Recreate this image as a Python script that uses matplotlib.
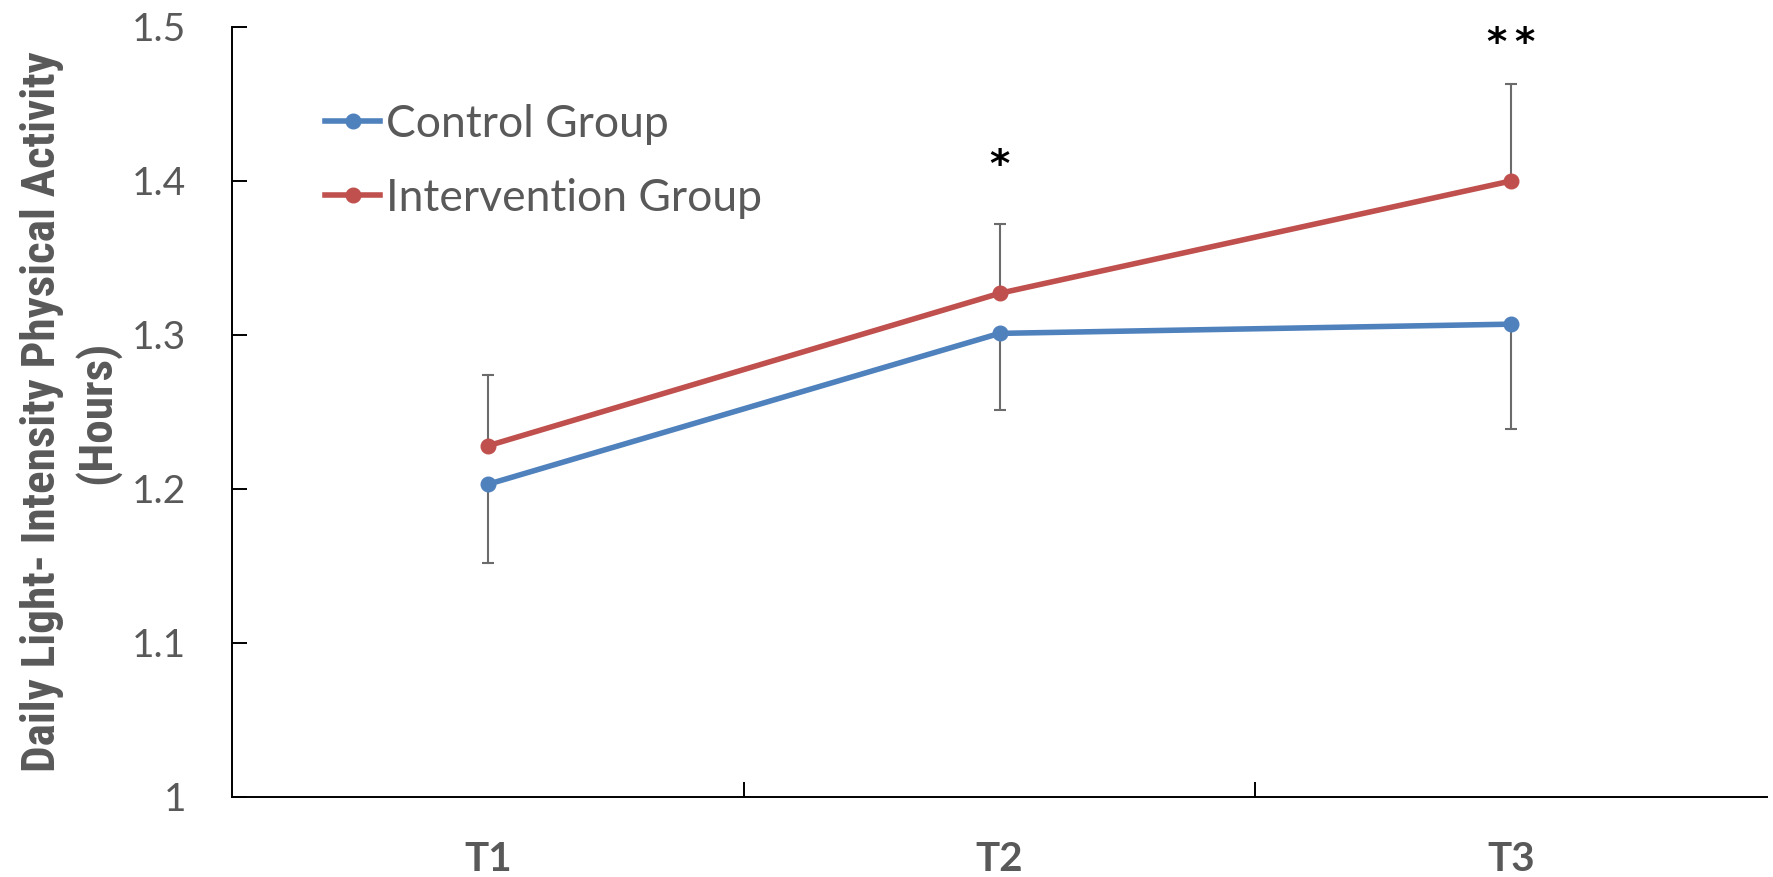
import numpy as np
import matplotlib
matplotlib.use("Agg")
import matplotlib.pyplot as plt

# data
timepoints = ["T1", "T2", "T3"]
control_mean = [1.203, 1.301, 1.307]
control_err = [0.051, 0.050, 0.068]      # drawn below the point only
intervention_mean = [1.228, 1.327, 1.400]
intervention_err = [0.046, 0.045, 0.063]  # drawn above the point only
star_labels = ["", "*", "*\u2009*"]
star_y = [None, 1.410, 1.489]
ytick_vals = [1.0, 1.1, 1.2, 1.3, 1.4, 1.5]
ytick_labels = ["1", "1.1", "1.2", "1.3", "1.4", "1.5"]

blue = "#4F81BD"
red = "#C0504D"
grey = "#595959"
bar_grey = "#6B6B6B"

fig = plt.figure(figsize=(17.73, 8.77), dpi=100)
ax = fig.add_axes([0.1309, 0.0913, 0.8657, 0.878])

x = np.arange(1, len(timepoints) + 1)

ax.errorbar(x, control_mean, yerr=[control_err, np.zeros(3)], fmt="none",
            ecolor=bar_grey, elinewidth=1.5, capsize=4.3, capthick=1.5, zorder=2)
ax.errorbar(x, intervention_mean, yerr=[np.zeros(3), intervention_err], fmt="none",
            ecolor=bar_grey, elinewidth=1.5, capsize=4.3, capthick=1.5, zorder=2)

ax.plot(x, control_mean, color=blue, lw=4.0, marker="o", ms=10.5,
        label="Control Group", zorder=3)
ax.plot(x, intervention_mean, color=red, lw=4.0, marker="o", ms=10.5,
        label="Intervention Group", zorder=3)

for xi, lab, yy in zip(x, star_labels, star_y):
    if lab:
        ax.text(xi, yy, lab, ha="center", va="center", fontsize=28,
                fontweight="bold", color="black", family="DejaVu Sans")

ax.set_xlim(0.5, 3.5)
ax.set_ylim(1.0, 1.5)
ax.set_yticks(ytick_vals)
ax.set_yticklabels(ytick_labels, family=["Lato", "DejaVu Sans"])
# category boundaries get the tick marks, the labels sit in between
ax.set_xticks([1.5, 2.5])
ax.set_xticklabels([])
ax.set_xticks(x, minor=True)
ax.set_xticklabels(timepoints, minor=True, fontsize=29, fontweight="bold",
                   color=grey, family=["Lato", "DejaVu Sans"])

ax.tick_params(axis="y", direction="in", length=11, width=1.4, pad=33,
               labelsize=28, labelcolor=grey)
ax.tick_params(axis="x", which="major", direction="in", length=11, width=1.4)
ax.tick_params(axis="x", which="minor", length=0, pad=32)

for s in ["top", "right"]:
    ax.spines[s].set_visible(False)
for s in ["left", "bottom"]:
    ax.spines[s].set_linewidth(1.4)
    ax.spines[s].set_color("black")

ax.set_ylabel("Daily Light- Intensity Physical Activity\n(Hours)",
              family=["DejaVu Sans Condensed", "Roboto Condensed",
                      "Liberation Sans Narrow", "Lato", "DejaVu Sans"],
              fontsize=34, fontweight="bold", color=grey, linespacing=1.25)
ax.yaxis.set_label_coords(-0.073, 0.5)

leg = ax.legend(loc="upper left", bbox_to_anchor=(0.043, 0.935), frameon=False,
                prop={"family": ["Lato", "DejaVu Sans"], "size": 32},
                handlelength=1.25, handletextpad=0.12, labelspacing=0.75,
                borderaxespad=0.2, labelcolor=grey)

fig.savefig("out.png", dpi=100)
